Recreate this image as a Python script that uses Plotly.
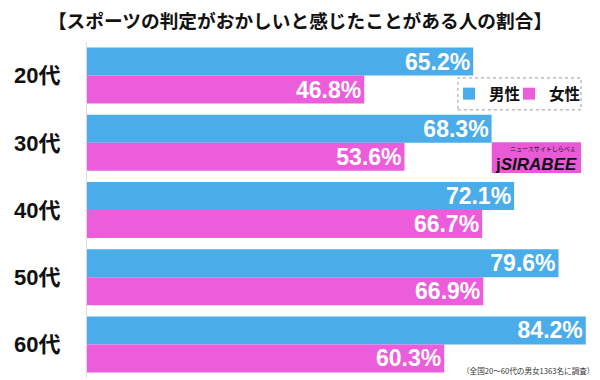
import plotly.graph_objects as go

categories = ["20代", "30代", "40代", "50代", "60代"]
male = [65.2, 68.3, 72.1, 79.6, 84.2]
female = [46.8, 53.6, 66.7, 66.9, 60.3]
series_names = ["男性", "女性"]
title_text = "【スポーツの判定がおかしいと感じたことがある人の割合】"
note_text = "（全国20～60代の男女1363名に調査）"

BLUE = "#4aade9"
PINK = "#ec5ddc"
JP = "Liberation Sans, Noto Sans CJK JP, sans-serif"

fig = go.Figure()
for name, vals, col, lg in [(series_names[0], male, BLUE, "legend"),
                            (series_names[1], female, PINK, "legend2")]:
    fig.add_trace(go.Bar(
        y=categories, x=vals, name=name, orientation="h", legend=lg,
        marker=dict(color=col, line=dict(width=0)),
        texttemplate="%{x:.1f}%", textposition="inside", insidetextanchor="end",
        constraintext="none",
        textfont=dict(family="Liberation Sans, Arial, sans-serif", size=23, color="white", weight="bold"),
        hoverinfo="skip",
    ))

leg_common = dict(orientation="h", y=0.845, xanchor="left", yanchor="middle",
                  font=dict(family=JP, size=15.5, color="#111", weight="bold"),
                  bgcolor="rgba(0,0,0,0)", borderwidth=0, itemwidth=30)

fig.update_layout(
    width=600, height=380,
    margin=dict(l=87, r=0, t=42, b=2),
    paper_bgcolor="white", plot_bgcolor="white",
    barmode="group", bargap=0.167, bargroupgap=0,
    showlegend=True,
    legend=dict(x=0.7057, **leg_common),
    legend2=dict(x=0.8226, **leg_common),
    title=dict(text=title_text, x=0.5, xanchor="center", y=1 - 21 / 380, yanchor="middle",
               yref="container", font=dict(family="Noto Sans CJK JP", size=18.7, color="#111", weight="bold")),
    xaxis=dict(range=[0, 86.6], showgrid=False, zeroline=False, showticklabels=False,
               ticks="", showline=False, fixedrange=True),
    yaxis=dict(autorange="reversed", showgrid=False, zeroline=False, ticks="",
               showline=True, linecolor="#dddddd", linewidth=1,
               ticklabelstandoff=21, fixedrange=True,
               tickfont=dict(family=JP, size=22, color="#111", weight="bold")),
)

# dashed legend border
fig.add_shape(type="rect", xref="paper", yref="paper", x0=0.723, x1=0.963, y0=0.798, y1=0.893,
              line=dict(color="#999999", width=1, dash="dot"), fillcolor="rgba(0,0,0,0)")

# SIRABEE logo
fig.add_shape(type="rect", xref="paper", yref="paper", x0=0.789, x1=0.963, y0=0.61, y1=0.702,
              line=dict(width=0), fillcolor="#e95bd6", layer="above")
fig.add_annotation(text="<b>j</b><i>SIRABEE</i>", xref="paper", yref="paper", x=0.876, y=0.635,
                   xanchor="center", yanchor="middle", showarrow=False,
                   font=dict(family="Liberation Sans, sans-serif", size=17, color="#111", weight="bold"))
fig.add_annotation(text="ニュースサイトしらべぇ", xref="paper", yref="paper", x=0.957, y=0.683,
                   xanchor="right", yanchor="middle", showarrow=False,
                   font=dict(family="Noto Sans CJK JP", size=6, color="#111"))

# footnote
fig.add_annotation(text=note_text, xref="paper", yref="paper", x=0.86, y=0.021,
                   xanchor="center", yanchor="middle", showarrow=False,
                   font=dict(family="Noto Sans CJK JP", size=7.6, color="#333"))

fig.write_html("out.html", config={"displayModeBar": False},
               post_script="document.body.style.margin='0';")
